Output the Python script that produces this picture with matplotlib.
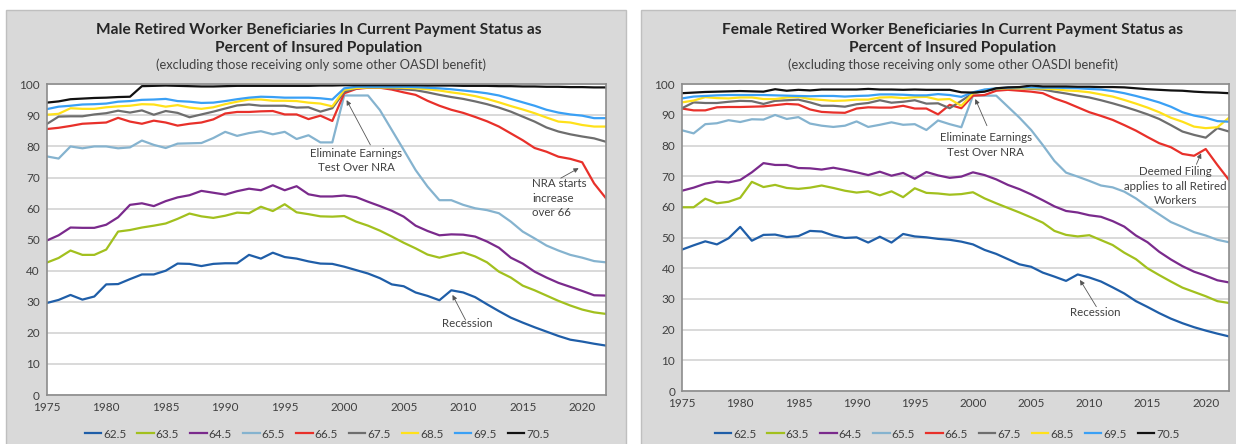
import matplotlib.pyplot as plt
from matplotlib.patches import Rectangle

plt.rcParams['font.family'] = ['Lato', 'DejaVu Sans']

years = list(range(1975, 2023))
ages = ['62.5', '63.5', '64.5', '65.5', '66.5', '67.5', '68.5', '69.5', '70.5']
colors = ['#1f5ea8', '#a2c01e', '#7a2a8c', '#85b3cf', '#e8302a',
          '#6e6e6e', '#ffe11a', '#3aa0f5', '#111111']

# Male, percent of insured population, 1975-2022
male_625 = [29.6, 30.6, 32.2, 30.7, 31.7, 35.6, 35.7, 37.3, 38.8, 38.8, 40.0, 42.3,
            42.2, 41.5, 42.2, 42.4, 42.4, 45.1, 43.9, 45.8, 44.4, 43.9, 43.0, 42.3,
            42.2, 41.3, 40.2, 39.1, 37.6, 35.6, 35.0, 33.0, 31.9, 30.5, 33.7, 33.0,
            31.5, 29.2, 27.0, 24.9, 23.3, 21.8, 20.4, 19.0, 17.8, 17.2, 16.5, 15.9]
male_635 = [42.6, 44.1, 46.5, 45.1, 45.1, 46.8, 52.6, 53.1, 53.9, 54.5, 55.2, 56.7,
            58.4, 57.5, 57.0, 57.7, 58.7, 58.5, 60.6, 59.2, 61.4, 58.8, 58.2, 57.5,
            57.4, 57.6, 55.8, 54.5, 52.9, 51.0, 49.0, 47.2, 45.2, 44.2, 45.1, 45.9,
            44.6, 42.7, 39.7, 37.8, 35.2, 33.7, 32.0, 30.3, 28.8, 27.5, 26.6, 26.1]
male_645 = [49.7, 51.4, 53.9, 53.8, 53.8, 54.8, 57.2, 61.2, 61.7, 60.8, 62.4, 63.6,
            64.3, 65.7, 65.1, 64.5, 65.6, 66.4, 65.9, 67.5, 65.9, 67.2, 64.6, 63.9,
            63.9, 64.2, 63.7, 62.2, 60.8, 59.3, 57.4, 54.5, 52.8, 51.4, 51.7, 51.6,
            51.0, 49.4, 47.4, 44.2, 42.3, 39.7, 37.8, 36.1, 34.8, 33.5, 32.1, 32.0]
male_655 = [76.8, 76.1, 80.0, 79.4, 80.0, 80.0, 79.4, 79.7, 81.9, 80.5, 79.5, 80.9,
            81.0, 81.1, 82.7, 84.7, 83.4, 84.3, 84.9, 83.9, 84.7, 82.4, 83.6, 81.3,
            81.3, 96.4, 96.4, 96.4, 91.7, 85.3, 78.9, 72.4, 67.1, 62.7, 62.7, 61.2,
            60.1, 59.5, 58.5, 55.8, 52.6, 50.4, 48.1, 46.5, 45.1, 44.2, 43.1, 42.7]
male_665 = [85.6, 86.0, 86.6, 87.3, 87.5, 87.7, 89.2, 88.0, 87.3, 88.3, 87.7, 86.7,
            87.3, 87.7, 88.7, 90.6, 91.1, 91.1, 91.3, 91.4, 90.3, 90.3, 88.8, 89.9,
            88.2, 97.1, 98.5, 98.9, 98.9, 98.3, 97.4, 96.6, 94.7, 93.1, 91.8, 90.8,
            89.5, 88.1, 86.4, 84.2, 82.0, 79.5, 78.3, 76.7, 76.0, 74.9, 68.1, 63.3]
male_675 = [87.2, 89.6, 89.7, 89.7, 90.3, 90.7, 91.5, 90.9, 91.6, 90.2, 91.4, 90.8,
            89.4, 90.3, 91.2, 92.2, 93.2, 93.5, 93.1, 93.1, 93.1, 92.5, 92.6, 91.2,
            92.3, 97.6, 98.7, 99.0, 99.0, 98.7, 98.4, 98.1, 97.4, 96.6, 95.9, 95.3,
            94.5, 93.6, 92.5, 91.2, 89.6, 88.0, 86.1, 84.8, 83.9, 83.2, 82.6, 81.5]
male_685 = [90.2, 90.5, 92.3, 92.1, 92.1, 92.6, 92.9, 93.1, 93.6, 93.5, 92.8, 93.3,
            92.5, 92.1, 92.6, 93.6, 94.4, 95.1, 95.1, 94.7, 94.7, 94.6, 94.1, 93.8,
            92.9, 98.2, 98.8, 99.0, 99.0, 99.0, 98.9, 98.7, 98.4, 98.0, 97.4, 96.9,
            96.2, 95.3, 94.2, 93.0, 91.9, 90.7, 89.3, 88.0, 87.7, 86.9, 86.4, 86.4]
male_695 = [92.0, 92.8, 93.1, 93.5, 93.6, 93.8, 94.4, 94.6, 95.0, 95.1, 95.3, 94.6,
            94.4, 94.0, 94.1, 94.6, 95.2, 95.7, 96.0, 95.9, 95.7, 95.7, 95.7, 95.5,
            95.1, 98.7, 99.2, 99.2, 99.2, 99.2, 99.2, 99.1, 98.9, 98.7, 98.4, 98.0,
            97.6, 97.1, 96.4, 95.3, 94.2, 93.1, 91.8, 90.9, 90.3, 89.9, 89.1, 89.1]
male_705 = [94.1, 94.5, 95.2, 95.4, 95.6, 95.7, 95.9, 96.0, 99.4, 99.5, 99.6, 99.5,
            99.4, 99.3, 99.3, 99.4, 99.5, 99.5, 99.5, 99.5, 99.5, 99.5, 99.5, 99.6,
            99.6, 99.7, 99.7, 99.7, 99.7, 99.7, 99.7, 99.7, 99.6, 99.6, 99.6, 99.5,
            99.5, 99.5, 99.4, 99.4, 99.3, 99.3, 99.2, 99.2, 99.1, 99.1, 99.0, 99.0]

# Female, percent of insured population, 1975-2022
female_625 = [46.1, 47.5, 48.8, 47.8, 49.8, 53.5, 49.0, 50.9, 51.0, 50.2, 50.5, 52.2,
              52.0, 50.7, 49.9, 50.1, 48.4, 50.3, 48.4, 51.2, 50.4, 50.1, 49.6, 49.3,
              48.7, 47.8, 46.0, 44.7, 43.0, 41.3, 40.5, 38.6, 37.3, 35.9, 38.0, 37.0,
              35.7, 33.8, 31.8, 29.3, 27.4, 25.4, 23.6, 22.1, 20.8, 19.7, 18.7, 17.8]
female_635 = [59.9, 59.9, 62.7, 61.2, 61.7, 63.0, 68.2, 66.5, 67.2, 66.2, 65.9, 66.3,
              67.0, 66.2, 65.3, 64.7, 65.1, 63.8, 65.1, 63.2, 66.1, 64.6, 64.4, 64.0,
              64.2, 64.8, 62.8, 61.2, 59.7, 58.2, 56.6, 54.9, 52.2, 50.9, 50.4, 50.8,
              49.2, 47.6, 45.1, 43.0, 40.0, 37.8, 35.7, 33.7, 32.3, 30.9, 29.3, 28.7]
female_645 = [65.3, 66.3, 67.6, 68.3, 68.0, 68.8, 71.3, 74.3, 73.7, 73.7, 72.7, 72.6,
              72.2, 72.8, 72.1, 71.3, 70.4, 71.5, 70.2, 71.1, 69.2, 71.4, 70.3, 69.5,
              69.9, 71.3, 70.4, 69.0, 67.2, 65.8, 64.1, 62.2, 60.2, 58.7, 58.2, 57.3,
              56.8, 55.4, 53.6, 50.7, 48.5, 45.4, 42.9, 40.7, 38.9, 37.6, 36.1, 35.4]
female_655 = [85.0, 84.0, 87.0, 87.3, 88.3, 87.7, 88.6, 88.5, 90.0, 88.7, 89.3, 87.2,
              86.5, 86.1, 86.5, 87.9, 86.1, 86.8, 87.6, 86.8, 87.0, 85.1, 88.2, 87.0,
              86.0, 96.3, 96.3, 96.3, 92.7, 89.1, 85.1, 80.2, 75.0, 71.2, 69.9, 68.5,
              67.0, 66.4, 65.0, 62.8, 60.1, 57.6, 55.1, 53.5, 51.8, 50.7, 49.3, 48.5]
female_665 = [92.1, 91.5, 91.5, 92.5, 92.6, 92.6, 92.7, 92.8, 93.2, 93.6, 93.4, 91.8,
              91.0, 90.8, 90.7, 92.1, 92.5, 92.4, 92.4, 93.0, 92.1, 92.1, 90.2, 93.3,
              92.2, 96.3, 96.5, 97.9, 98.2, 97.9, 97.6, 97.1, 95.4, 94.1, 92.5, 90.9,
              89.7, 88.4, 86.7, 84.9, 82.8, 80.8, 79.5, 77.3, 76.7, 78.9, 73.7, 68.8]
female_675 = [92.2, 94.1, 93.9, 93.9, 94.3, 94.6, 94.5, 93.6, 94.6, 94.8, 95.0, 94.1,
              93.0, 93.0, 92.7, 93.5, 93.9, 94.8, 94.0, 94.3, 94.8, 93.7, 93.8, 92.2,
              94.6, 97.1, 97.8, 98.5, 98.7, 98.7, 98.5, 98.3, 97.6, 97.0, 96.3, 95.7,
              94.8, 93.8, 92.7, 91.5, 90.2, 88.7, 86.7, 84.6, 83.5, 82.6, 85.7, 84.6]
female_685 = [94.1, 94.7, 95.8, 95.5, 95.4, 95.7, 95.7, 95.2, 95.2, 95.7, 95.9, 95.2,
              94.9, 94.6, 94.7, 95.0, 95.0, 95.7, 95.8, 95.5, 95.8, 95.9, 95.0, 95.2,
              93.0, 97.1, 98.2, 98.6, 98.7, 98.7, 98.7, 98.6, 98.4, 98.0, 97.8, 97.4,
              96.7, 96.0, 94.9, 93.7, 92.4, 90.9, 89.1, 87.8, 86.2, 85.7, 86.0, 89.1]
female_695 = [95.4, 96.0, 96.2, 96.4, 96.5, 96.5, 96.5, 96.5, 96.4, 96.3, 96.2, 96.1,
              96.2, 96.2, 96.0, 96.2, 96.3, 96.7, 96.7, 96.6, 96.4, 96.4, 96.8, 96.5,
              95.9, 97.4, 98.3, 98.7, 98.9, 99.0, 99.0, 98.9, 98.9, 98.8, 98.7, 98.5,
              98.3, 97.8, 97.1, 96.2, 95.2, 94.1, 92.7, 90.9, 89.8, 89.1, 88.0, 87.8]
female_705 = [97.1, 97.3, 97.5, 97.6, 97.7, 97.8, 97.7, 97.6, 98.4, 97.9, 98.2, 98.0,
              98.3, 98.3, 98.3, 98.3, 98.5, 98.3, 98.3, 98.2, 98.3, 98.2, 98.2, 98.2,
              97.4, 97.3, 97.6, 98.7, 99.0, 99.1, 99.6, 99.3, 99.3, 99.3, 99.2, 99.2,
              99.1, 99.1, 99.0, 98.7, 98.4, 98.2, 98.0, 97.9, 97.6, 97.4, 97.3, 97.1]

male = [male_625, male_635, male_645, male_655, male_665, male_675, male_685, male_695, male_705]
female = [female_625, female_635, female_645, female_655, female_665, female_675,
          female_685, female_695, female_705]

title_male = 'Male Retired Worker Beneficiaries In Current Payment Status as\nPercent of Insured Population'
title_female = 'Female Retired Worker Beneficiaries In Current Payment Status as\nPercent of Insured Population'
subtitle = '(excluding those receiving only some other OASDI benefit)'

fig = plt.figure(figsize=(12.36, 4.44), dpi=100)
W, H = 1236, 444

# grey chart areas behind the axes
fig.patches.append(Rectangle((6 / W, -0.01), 620 / W, 1.01 - 10 / H, transform=fig.transFigure,
                             facecolor='#d9d9d9', edgecolor='#bfbfbf', lw=1, zorder=-5))
fig.patches.append(Rectangle((641 / W, -0.01), 600 / W, 1.01 - 10 / H, transform=fig.transFigure,
                             facecolor='#d9d9d9', edgecolor='#bfbfbf', lw=1, zorder=-5))

ax1 = fig.add_axes([46.7 / W, 1 - 395 / H, (606 - 46.7) / W, (395 - 84.3) / H])
ax2 = fig.add_axes([682 / W, 1 - 391 / H, (1229 - 682) / W, (391 - 84.3) / H])

for ax, data in [(ax1, male), (ax2, female)]:
    ax.set_zorder(2)
    ax.set_facecolor('white')
    for vals, lab, c in zip(data, ages, colors):
        ax.plot(years, vals, color=c, lw=1.6, label=lab)
    ax.set_xlim(1975, 2022)
    ax.set_ylim(0, 100)
    ax.set_xticks(range(1975, 2021, 5))
    ax.set_yticks(range(0, 101, 10))
    ax.grid(axis='y', color='#d9d9d9', lw=1.4)
    ax.set_axisbelow(True)
    ax.tick_params(length=0, labelsize=8.5, colors='#404040', pad=5)
    for s in ax.spines.values():
        s.set_color('#8c8c8c')
        s.set_linewidth(1.2)

fig.text(319 / W, 1 - 39 / H, title_male, ha='center', va='center', fontsize=11.2,
         fontweight='bold', color='#262626', linespacing=1.3)
fig.text(953 / W, 1 - 39 / H, title_female, ha='center', va='center', fontsize=11.2,
         fontweight='bold', color='#262626', linespacing=1.3)
fig.text(321 / W, 1 - 65 / H, subtitle, ha='center', va='center', fontsize=9.3, color='#404040')
fig.text(953 / W, 1 - 65 / H, subtitle, ha='center', va='center', fontsize=9.3, color='#404040')

note = dict(ha='center', va='center', fontsize=8.3, color='#404040', linespacing=1.35)
arrow = dict(arrowstyle='-|>', color='#555555', lw=0.6, mutation_scale=7, shrinkA=0, shrinkB=0)

ax1.annotate('', xy=(2000.2, 94.9), xytext=(2002.2, 80.5), arrowprops=arrow)
ax1.text(2001.0, 75.6, 'Eliminate Earnings\nTest Over NRA', **note)
ax1.annotate('', xy=(2019.7, 73.0), xytext=(2018.2, 69.8), arrowprops=arrow)
ax1.text(2015.8, 63.4, 'NRA starts\nincrease\nover 66', **dict(note, ha='left'))
ax1.annotate('', xy=(2009.1, 32.2), xytext=(2010.2, 24.1), arrowprops=arrow)
ax1.text(2010.3, 22.9, 'Recession', **note)

ax2.annotate('', xy=(2000.2, 95.2), xytext=(2001.2, 86.5), arrowprops=arrow)
ax2.text(2001.1, 80.2, 'Eliminate Earnings\nTest Over NRA', **note)
ax2.annotate('', xy=(2019.6, 77.5), xytext=(2019.2, 73.9), arrowprops=arrow)
ax2.text(2017.4, 66.8, 'Deemed Filing\napplies to all Retired\nWorkers', **note)
ax2.annotate('', xy=(2009.2, 36.2), xytext=(2010.6, 27.5), arrowprops=arrow)
ax2.text(2010.5, 25.5, 'Recession', **note)

leg_kw = dict(loc='center', ncol=9, frameon=False, fontsize=8.5, handlelength=1.4,
              handletextpad=0.15, columnspacing=0.95, labelcolor='#404040')
for ax, cx in [(ax1, 317), (ax2, 947)]:
    ax.legend(bbox_to_anchor=(cx / W, 1 - 434 / H), bbox_transform=fig.transFigure, **leg_kw)

fig.savefig('out.png', dpi=100)
